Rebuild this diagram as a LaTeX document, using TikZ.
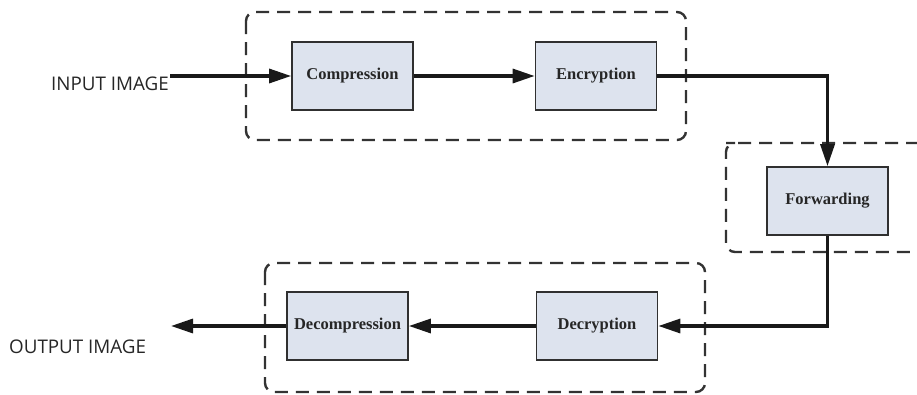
\documentclass[tikz,border=0pt]{standalone}
\usepackage{fontspec}
\setmainfont{Liberation Serif}
\newfontfamily\labelfont{Open Sans}
\usetikzlibrary{arrows.meta,calc}
\definecolor{boxfill}{HTML}{DDE3EE}
\definecolor{boxline}{HTML}{303030}
\definecolor{dashcol}{HTML}{333333}
\tikzset{
  procbox/.style={draw=boxline, line width=1.7pt, fill=boxfill, minimum width=121pt, minimum height=68pt, inner sep=0pt, font=\fontsize{16.5}{19}\selectfont\bfseries, text=black!85},
  flow/.style={line width=3.2pt, draw=black!90, -{Triangle[length=22pt,width=14pt]}},
  group/.style={draw=dashcol, line width=2.4pt, dash pattern=on 13pt off 8pt, rounded corners=9pt},
  iolabel/.style={font=\labelfont\fontsize{18.8}{21}\selectfont, text=black!85, inner sep=0pt}
}
\begin{document}
\begin{tikzpicture}[x=1pt,y=-1pt]
\useasboundingbox (0,0) rectangle (917,394);
\clip (0,0) rectangle (917,394);
% groups
\draw[group] (246,12) rectangle (686,140);
\draw[group] (940,143) -- (735,143) [rounded corners=9pt]-- (726,143) -- (726,252) -- (940,252);
\draw[group] (265,263) rectangle (705,392);
% boxes
\node[procbox] (comp) at (352.5,76) {Compression};
\node[procbox] (enc) at (596,76) {Encryption};
\node[procbox] (fwd) at (827.5,201) {Forwarding};
\node[procbox] (dec) at (597,326) {Decryption};
\node[procbox] (decomp) at (347.5,326) {Decompression};
% labels
\node[iolabel, anchor=west] (in) at (51,84) {INPUT IMAGE};
\node[iolabel, anchor=west] (out) at (9,347) {OUTPUT IMAGE};
\coordinate (inStart) at (170,76);
\coordinate (outEnd) at (171,326);
% connectors
\draw[flow] (inStart) -- (comp.west);
\draw[flow] (comp.east) -- (enc.west);
\draw[flow] (enc.east) -| (fwd.north);
\draw[flow] (fwd.south) |- (dec.east);
\draw[flow] (dec.west) -- (decomp.west -| decomp.east);
\draw[flow] (decomp.west) -- (outEnd);
\end{tikzpicture}
\end{document}
